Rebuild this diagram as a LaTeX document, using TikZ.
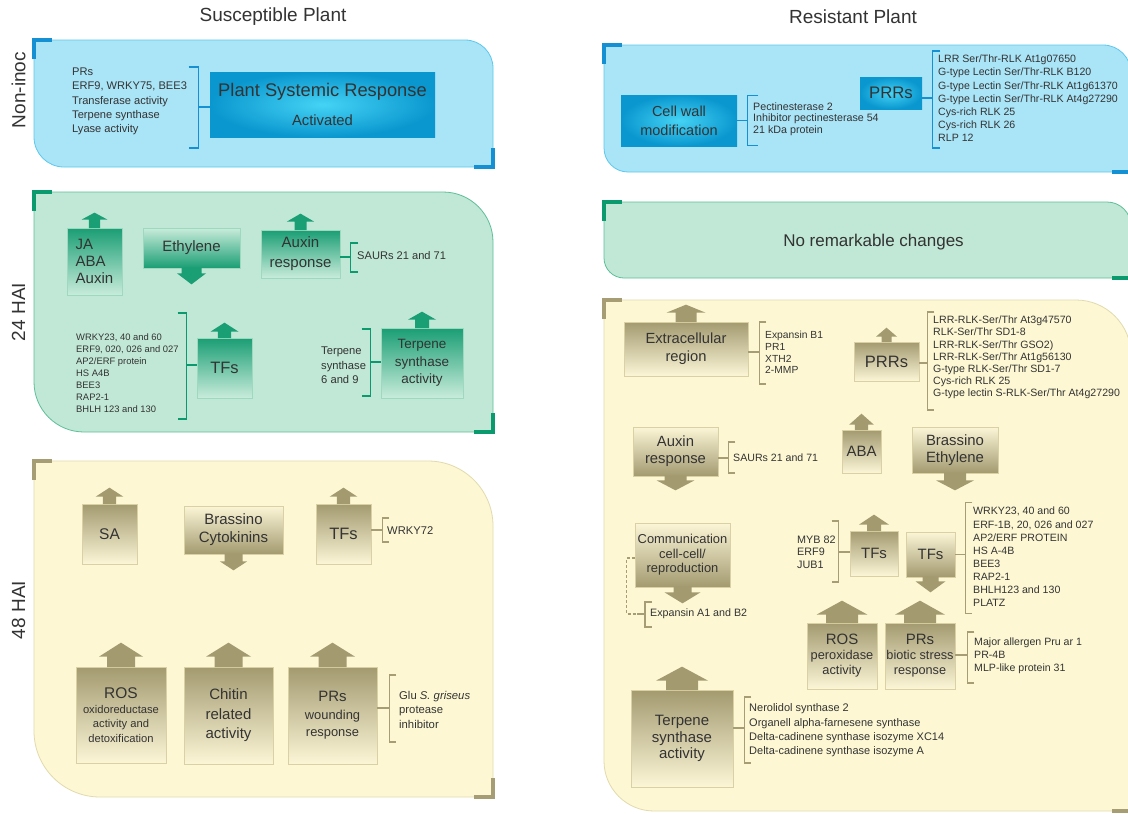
\documentclass[tikz,border=0pt]{standalone}
\usepackage{fontspec}
\setmainfont{Liberation Sans}
\usetikzlibrary{calc}
\definecolor{txt}{HTML}{333333}
\definecolor{bpanel}{HTML}{AAE4F7}
\definecolor{bline}{HTML}{5CC8EE}
\definecolor{bbrc}{HTML}{1590D2}
\definecolor{bout}{HTML}{0A97CF}
\definecolor{bin}{HTML}{45D3F5}
\definecolor{gpanel}{HTML}{C1E8D6}
\definecolor{gline}{HTML}{5DBF98}
\definecolor{gbrc}{HTML}{0B9A6D}
\definecolor{gdark}{HTML}{1A9E74}
\definecolor{glight}{HTML}{C8ECDB}
\definecolor{gbord}{HTML}{9ED9BF}
\definecolor{ypanel}{HTML}{FDF8D3}
\definecolor{yline}{HTML}{E2DAAD}
\definecolor{ybrc}{HTML}{A69D74}
\definecolor{ydark}{HTML}{A39A70}
\definecolor{ylight}{HTML}{FCF6D7}
\definecolor{ybord}{HTML}{D9D0A3}
\newcommand{\fsz}[2]{\fontsize{#1}{#2}\selectfont}
% panel: x1 y1 x2 y2 rTR rBL fill draw
\newcommand{\mypanel}[8]{%
 \pgfmathsetmacro{\PnA}{#3-#5}\pgfmathsetmacro{\PnB}{#3-0.4477*#5}%
 \pgfmathsetmacro{\PnC}{#2+0.4477*#5}\pgfmathsetmacro{\PnD}{#2+#5}%
 \pgfmathsetmacro{\PnE}{#1+#6}\pgfmathsetmacro{\PnF}{#1+0.4477*#6}%
 \pgfmathsetmacro{\PnG}{#4-0.4477*#6}\pgfmathsetmacro{\PnH}{#4-#6}%
 \filldraw[fill=#7,draw=#8,line width=0.8pt] (#1,#2) -- (\PnA,#2) .. controls (\PnB,#2) and (#3,\PnC) .. (#3,\PnD) -- (#3,#4) -- (\PnE,#4) .. controls (\PnF,#4) and (#1,\PnG) .. (#1,\PnH) -- cycle;}
\newcommand{\cTL}[3]{\draw[#3,line width=4pt] (#1,#2+19) -- (#1,#2) -- (#1+18,#2);}
\newcommand{\cBR}[3]{\draw[#3,line width=4pt] (#1-19,#2) -- (#1,#2) -- (#1,#2-19);}
% arrows: node, colour, head hw, stem hw, stem h, head h
\newcommand{\arrup}[6]{\fill[#2] ($(#1.north)+(-#4,0.5)$) -- ++(0,-#5-0.5) -- ++(#4-#3,0) -- ++(#3,-#6) -- ++(#3,#6) -- ++(#4-#3,0) -- ++(0,#5+0.5) -- cycle;}
\newcommand{\arrdn}[6]{\fill[#2] ($(#1.south)+(-#4,-0.5)$) -- ++(0,#5+0.5) -- ++(#4-#3,0) -- ++(#3,#6) -- ++(#3,-#6) -- ++(#4-#3,0) -- ++(0,-#5-0.5) -- cycle;}
% brackets: style, node, tick len, up, down, dy, serif
\newcommand{\brR}[7]{\draw[#1] ($(#2.east)+(0,#6)$) -- ++(#3,0);
 \draw[#1] ($(#2.east)+(#3+#7,#6-#4)$) -- ++(-#7,0) -- ++(0,#4+#5) -- ++(#7,0);}
\newcommand{\brL}[7]{\draw[#1] ($(#2.west)+(0,#6)$) -- ++(-#3,0);
 \draw[#1] ($(#2.west)+(-#3-#7,#6-#4)$) -- ++(#7,0) -- ++(0,#4+#5) -- ++(-#7,0);}
\tikzset{
 every node/.style={text=txt, inner sep=0pt},
 bx/.style={line width=0.7pt, align=center, inner sep=0pt},
 gu/.style={bx, draw=gbord, top color=gdark, bottom color=glight},
 gd/.style={bx, draw=gbord, top color=glight, bottom color=gdark},
 yu/.style={bx, draw=ybord, top color=ydark, bottom color=ylight},
 yd/.style={bx, draw=ybord, top color=ylight, bottom color=ydark},
 bb/.style={bx, inner color=bin, outer color=bout},
 brB/.style={draw=bbrc, line width=1.6pt},
 brG/.style={draw=gbrc, line width=1.5pt},
 brY/.style={draw=ybrc, line width=1.4pt},
 lst/.style={anchor=west, align=left},
 rowlab/.style={rotate=90, font=\fsz{19}{22}},
}
\begin{document}
\begin{tikzpicture}[x=1pt,y=-1pt]
\clip (0,0) rectangle (1128,814);
\useasboundingbox (0,0) rectangle (1128,814);
\fill[white] (0,0) rectangle (1128,814);

% titles and row labels
\node[font=\fsz{19}{22}] (t1) at (273,17) {Susceptible Plant};
\node[font=\fsz{19}{22}] (t2) at (853,17) {Resistant Plant};
\node[rowlab] (r1) at (18.5,90) {Non-inoc};
\node[rowlab] (r2) at (18.5,312) {24 HAI};
\node[rowlab] (r3) at (18.5,610) {48 HAI};

% panels
\mypanel{34}{40}{493}{167}{28}{30}{bpanel}{bline}
\mypanel{34}{192}{493}{432}{50}{50}{gpanel}{gline}
\mypanel{34}{461}{493}{797}{65}{66}{ypanel}{yline}
\mypanel{604}{45}{1131}{172}{28}{24}{bpanel}{bline}
\mypanel{604}{202}{1131}{278}{24}{20}{gpanel}{gline}
\mypanel{604}{300}{1131}{811}{55}{50}{ypanel}{yline}
\cTL{34}{40}{bbrc}\cBR{493}{167}{bbrc}
\cTL{34}{192}{gbrc}\cBR{493}{432}{gbrc}
\cTL{34}{461}{ybrc}\cBR{493}{797}{ybrc}
\cTL{604}{45}{bbrc}\cBR{1131}{172}{bbrc}
\cTL{604}{202}{gbrc}\cBR{1131}{278}{gbrc}
\cTL{604}{300}{ybrc}\cBR{1131}{811}{ybrc}

% ---------- Non-inoc, susceptible
\node[bb, minimum width=225pt, minimum height=65pt] (psr) at (322.5,104.5) {};
\node[font=\fsz{18.3}{22}] (psrt1) at (322.5,92) {Plant Systemic Response};
\node[font=\fsz{14.8}{18}] (psrt2) at (322.5,120) {Activated};
\node[lst, font=\fsz{11.1}{14.2}] (l1) at (72,101.5) {PRs\\ERF9, WRKY75, BEE3\\Transferase activity\\Terpene synthase\\Lyase activity};
\brL{brB}{psr}{11}{40}{41}{2.5}{10}

% ---------- Non-inoc, resistant
\node[bb, minimum width=116pt, minimum height=51pt, font=\fsz{14.5}{19}] (cwm) at (679,120.5) {Cell wall\\modification};
\node[bb, minimum width=62pt, minimum height=32pt, font=\fsz{16.7}{20}] (prr1) at (891,93) {PRRs};
\brR{brB}{cwm}{10}{25}{25}{0}{11}
\node[lst, font=\fsz{10.7}{11.4}] (cwml) at (753,119) {Pectinesterase 2\\Inhibitor pectinesterase 54\\21 kDa protein};
\brR{brB}{prr1}{10}{47}{50}{5}{8}
\node[lst, font=\fsz{10.6}{13.2}] (prrl1) at (938,98.5) {LRR Ser/Thr-RLK At1g07650\\G-type Lectin Ser/Thr-RLK B120\\G-type Lectin Ser/Thr-RLK At1g61370\\G-type Lectin Ser/Thr-RLK At4g27290\\Cys-rich RLK 25\\Cys-rich RLK 26\\RLP 12};

% ---------- 24 HAI, susceptible
\node[gu, minimum width=55pt, minimum height=67pt, align=left, font=\fsz{15}{16.7}] (ja) at (94.5,261.5) {JA\\ABA\\Auxin};
\arrup{ja}{gdark}{13}{5.7}{8}{7}
\node[gd, minimum width=97pt, minimum height=40pt, font=\fsz{15}{18}] (eth) at (191.5,248) {Ethylene};
\arrdn{eth}{gdark}{14.5}{10}{5}{11}
\node[gu, minimum width=79pt, minimum height=48pt, font=\fsz{15}{20}] (aux) at (300.5,254) {Auxin\\response};
\arrup{aux}{gdark}{13.7}{6}{8}{8}
\brR{brG}{aux}{10}{14}{15}{3}{8}
\node[lst, font=\fsz{11.1}{13}] (auxl) at (357,256) {SAURs 21 and 71};
\node[gu, minimum width=55pt, minimum height=60pt, font=\fsz{16.5}{20}] (tf1) at (224.5,368) {TFs};
\arrup{tf1}{gdark}{14}{6.7}{6}{9}
\brL{brG}{tf1}{10}{52}{54}{-3}{9}
\node[lst, font=\fsz{9.4}{12}] (tf1l) at (76,373) {WRKY23, 40 and 60\\ERF9, 020, 026 and 027\\AP2/ERF protein\\HS A4B\\BEE3\\RAP2-1\\BHLH 123 and 130};
\node[gu, minimum width=82pt, minimum height=70pt, font=\fsz{13.5}{17.5}] (tsa) at (422,363) {Terpene\\synthase\\activity};
\arrup{tsa}{gdark}{14}{7}{8}{8}
\brL{brG}{tsa}{10}{33}{34}{-1}{9}
\node[lst, font=\fsz{11.2}{14.5}] (tsal) at (321,365.5) {Terpene\\synthase\\6 and 9};

% ---------- 24 HAI, resistant
\node[font=\fsz{17}{20}] (nrc) at (873.5,242) {No remarkable changes};

% ---------- 48 HAI, susceptible
\node[yu, minimum width=55pt, minimum height=60pt, font=\fsz{15.5}{18}] (sa) at (109.5,534) {SA};
\arrup{sa}{ydark}{13.8}{6.7}{7}{9}
\node[yd, minimum width=99pt, minimum height=48pt, font=\fsz{15}{18}] (brc) at (233.5,530) {Brassino\\Cytokinins};
\arrdn{brc}{ydark}{13.7}{9}{7}{9}
\node[yu, minimum width=55pt, minimum height=60pt, font=\fsz{16.5}{18}] (tf2) at (343.5,534) {TFs};
\arrup{tf2}{ydark}{13.8}{6.7}{7}{9}
\brR{brY}{tf2}{11}{12}{12}{-4}{7}
\node[lst, font=\fsz{11.2}{13}] (tf2l) at (387,531) {WRKY72};
\node[yu, minimum width=90pt, minimum height=96pt, font=\fsz{11.2}{14.7}] (ros) at (121,715) {{\fsz{15.5}{18}ROS}\\oxidoreductase\\activity and\\detoxification};
\arrup{ros}{ydark}{22}{14}{10}{14}
\node[yu, minimum width=89pt, minimum height=97pt, font=\fsz{15}{19.5}] (chi) at (228.5,715.5) {Chitin\\related\\activity};
\arrup{chi}{ydark}{22.5}{14}{10}{14}
\node[yu, minimum width=89pt, minimum height=97pt, font=\fsz{12.9}{17.5}] (prs) at (332.5,715.5) {{\fsz{15}{18}PRs}\\wounding\\response};
\arrup{prs}{ydark}{22.5}{14}{10}{14}
\brR{brY}{prs}{12}{33}{34}{-7.5}{7}
\node[lst, font=\fsz{11.3}{14.5}] (prsl) at (399,709.5) {Glu \textit{S. griseus}\\protease\\inhibitor};

% ---------- 48 HAI, resistant
\node[yu, minimum width=124pt, minimum height=54pt, font=\fsz{14.7}{18}] (ext) at (686,349) {Extracellular\\region};
\arrup{ext}{ydark}{19.5}{10.5}{9}{8}
\brR{brY}{ext}{11}{30}{32}{3}{7}
\node[lst, font=\fsz{10.3}{11.7}] (extl) at (765,352.5) {Expansin B1\\PR1\\XTH2\\2-MMP};
\node[yu, minimum width=65pt, minimum height=39pt, font=\fsz{16.5}{20}] (prr2) at (886.5,361.5) {PRRs};
\arrup{prr2}{ydark}{10.5}{5}{5}{9}
\brR{brY}{prr2}{8}{51}{47}{1.5}{7}
\node[lst, font=\fsz{10.6}{12.2}] (prrl2) at (933,357.5) {LRR-RLK-Ser/Thr At3g47570\\RLK-Ser/Thr SD1-8\\LRR-RLK-Ser/Thr GSO2)\\LRR-RLK-Ser/Thr At1g56130\\G-type RLK-Ser/Thr SD1-7\\Cys-rich RLK 25\\G-type lectin S-RLK-Ser/Thr At4g27290};
\node[yd, minimum width=85pt, minimum height=49pt, font=\fsz{14.8}{17}] (auxr) at (675.5,451.5) {Auxin\\response};
\arrdn{auxr}{ydark}{19}{11}{4}{10}
\brR{brY}{auxr}{10}{16}{15}{6.5}{7}
\node[lst, font=\fsz{10.6}{13}] (auxrl) at (733,458) {SAURs 21 and 71};
\node[yu, minimum width=39pt, minimum height=43pt, font=\fsz{15}{18}] (aba) at (861.5,451.5) {ABA};
\arrup{aba}{ydark}{12.3}{6.7}{5}{11}
\node[yd, minimum width=86pt, minimum height=46pt, font=\fsz{14.9}{17}] (bre) at (955,450) {Brassino\\Ethylene};
\arrdn{bre}{ydark}{19}{11}{7}{10}
\node[yd, minimum width=95pt, minimum height=64pt, font=\fsz{12.9}{14.5}] (com) at (682.5,555) {Communication\\cell-cell/\\reproduction};
\arrdn{com}{ydark}{18}{9}{5}{11}
\node[lst, font=\fsz{10.7}{13}] (expl) at (650,614) {Expansin A1 and B2};
\draw[brY, line width=1.2pt, dash pattern=on 3pt off 2pt] ($(com.west)+(0,3)$) -- ++(-8,0) |- ($(expl.west)+(-13,0)$);
\draw[brY] ($(expl.west)+(-13,0)$) -- ++(8,0);
\draw[brY] ($(expl.west)+(2,-12)$) -- ++(-7,0) -- ++(0,25) -- ++(7,0);
\node[yu, minimum width=48pt, minimum height=45pt, font=\fsz{15}{16}] (tfu) at (874,553.5) {TFs};
\arrup{tfu}{ydark}{15}{7}{6}{10}
\brL{brY}{tfu}{11}{31}{30}{-1.5}{7}
\node[lst, font=\fsz{10.8}{12.5}] (tful) at (797,552) {MYB 82\\ERF9\\JUB1};
\node[yd, minimum width=49pt, minimum height=45pt, font=\fsz{15}{16}] (tfd) at (930.5,554.5) {TFs};
\arrdn{tfd}{ydark}{15}{8}{4}{11}
\brR{brY}{tfd}{10}{52}{59}{0}{7}
\node[lst, font=\fsz{10.6}{13.1}] (tfdl) at (973,557) {WRKY23, 40 and 60\\ERF-1B, 20, 026 and 027\\AP2/ERF PROTEIN\\HS A-4B\\BEE3\\RAP2-1\\BHLH123 and 130\\PLATZ};
\node[yu, minimum width=70pt, minimum height=66pt, font=\fsz{12.8}{15}] (rosr) at (842,656) {{\fsz{15}{17}ROS}\\peroxidase\\activity};
\arrup{rosr}{ydark}{25.5}{16}{8}{14}
\node[yu, minimum width=70pt, minimum height=66pt, font=\fsz{12.7}{15}] (prsr) at (920,656) {{\fsz{15}{17}PRs}\\biotic stress\\response};
\arrup{prsr}{ydark}{25}{16}{8}{14}
\brR{brY}{prsr}{12}{23}{28}{-1}{7}
\node[lst, font=\fsz{10.6}{13}] (prsrl) at (974,656) {Major allergen Pru ar 1\\PR-4B\\MLP-like protein 31};
\node[yu, minimum width=102pt, minimum height=97pt, font=\fsz{15}{16.7}] (tsar) at (682,738.5) {Terpene\\synthase\\activity};
\arrup{tsar}{ydark}{26}{16}{9}{14}
\brR{brY}{tsar}{11}{31}{35}{-10.5}{7}
\node[lst, font=\fsz{11}{14.3}] (tsarl) at (749,730.5) {Nerolidol synthase 2\\Organell alpha-farnesene synthase\\Delta-cadinene synthase isozyme XC14\\Delta-cadinene synthase isozyme A};
\end{tikzpicture}
\end{document}
